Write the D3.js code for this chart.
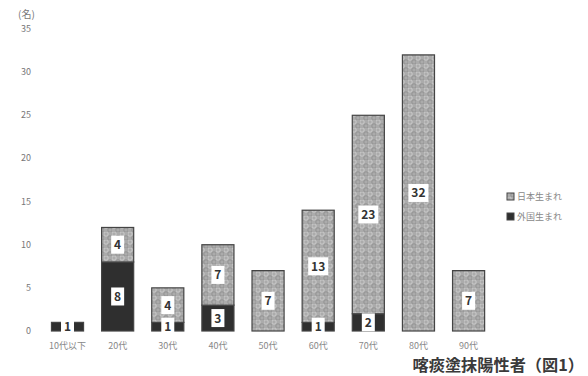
<!DOCTYPE html>
<html>
<head>
<meta charset="utf-8">
<script src="https://cdn.jsdelivr.net/npm/d3@7"></script>
<style>
  html, body { margin: 0; padding: 0; background: #fff; }
  svg { display: block; font-family: "Noto Sans CJK JP", "Noto Sans", sans-serif; }
</style>
</head>
<body>
<svg id="chart" width="588" height="376"></svg>
<script>
// Age groups and counts per birthplace
const categories = ["10代以下", "20代", "30代", "40代", "50代", "60代", "70代", "80代", "90代"];
const foreignBorn = [1, 8, 1, 3, 0, 1, 2, 0, 0];
const japanBorn = [0, 4, 4, 7, 7, 13, 23, 32, 7];
const seriesNames = ["日本生まれ", "外国生まれ"];
const yTicks = [0, 5, 10, 15, 20, 25, 30, 35];

const svg = d3.select("#chart");
const W = 588, H = 376;
const plotTop = 29, plotBottom = 331;

const x = d3.scaleBand().domain(categories).range([26.4, 509.7]).paddingInner(0.36).paddingOuter(0.5);
const y = d3.scaleLinear().domain([0, 35]).range([plotBottom, plotTop]);

// Textured fill for the Japan-born segments
const defs = svg.append("defs");
const pat = defs.append("pattern").attr("id", "dots").attr("patternUnits", "userSpaceOnUse")
  .attr("width", 8).attr("height", 8);
pat.append("rect").attr("width", 8).attr("height", 8).attr("fill", "#ababab");
pat.append("circle").attr("cx", 2).attr("cy", 2).attr("r", 2.2).attr("fill", "none").attr("stroke", "#cbcbcb").attr("stroke-width", 1);
pat.append("circle").attr("cx", 6).attr("cy", 6).attr("r", 2.2).attr("fill", "none").attr("stroke", "#929292").attr("stroke-width", 1);

const data = categories.map((c, i) => ({ cat: c, foreign: foreignBorn[i], japan: japanBorn[i] }));
const stack = d3.stack().keys(["foreign", "japan"])(data);
const fills = { foreign: "#2f2f2f", japan: "url(#dots)" };

// Y axis tick labels
svg.append("g").selectAll("text").data(yTicks).join("text")
  .attr("x", 31).attr("y", d => y(d) + 3)
  .attr("text-anchor", "end").attr("font-size", 9).attr("fill", "#777")
  .text(d => d);

svg.append("text").attr("x", 18).attr("y", 18).attr("font-size", 10).attr("fill", "#777").text("(名)");

// Bars
const bw = x.bandwidth();
stack.forEach(layer => {
  svg.append("g").selectAll("rect").data(layer.filter(d => d[1] > d[0])).join("rect")
    .attr("x", d => x(d.data.cat))
    .attr("y", d => y(d[1]))
    .attr("width", bw)
    .attr("height", d => y(d[0]) - y(d[1]))
    .attr("fill", fills[layer.key])
    .attr("stroke", "#444").attr("stroke-width", 1.2);
});

// Value labels on white boxes
stack.forEach(layer => {
  const g = svg.append("g");
  layer.filter(d => d[1] > d[0]).forEach(d => {
    const v = d[1] - d[0];
    const cx = x(d.data.cat) + bw / 2;
    const cy = (y(d[0]) + y(d[1])) / 2;
    const w = String(v).length > 1 ? 20 : 13;
    g.append("rect").attr("x", cx - w / 2).attr("y", cy - 9).attr("width", w).attr("height", 18).attr("fill", "#fff");
    g.append("text").attr("x", cx).attr("y", cy + 4.5).attr("text-anchor", "middle")
      .attr("font-size", 12).attr("font-weight", "bold").attr("fill", "#333").text(v);
  });
});

// X axis category labels
svg.append("g").selectAll("text").data(categories).join("text")
  .attr("x", d => x(d) + bw / 2).attr("y", plotBottom + 18)
  .attr("text-anchor", "middle").attr("font-size", 9).attr("fill", "#888")
  .text(d => d);

// Legend
const lg = svg.append("g").attr("transform", "translate(507,197)");
seriesNames.forEach((n, i) => {
  lg.append("rect").attr("x", 0).attr("y", i * 20 - 4).attr("width", 7).attr("height", 7)
    .attr("fill", i === 0 ? "url(#dots)" : "#2f2f2f").attr("stroke", "#444").attr("stroke-width", 1);
  lg.append("text").attr("x", 10).attr("y", i * 20 + 3).attr("font-size", 9).attr("fill", "#888").text(n);
});

// Title
svg.append("text").attr("x", 584).attr("y", 371).attr("text-anchor", "end")
  .attr("font-size", 16.2).attr("font-weight", "bold").attr("fill", "#3a3a3a").text("喀痰塗抹陽性者（図1）");
</script>
</body>
</html>
